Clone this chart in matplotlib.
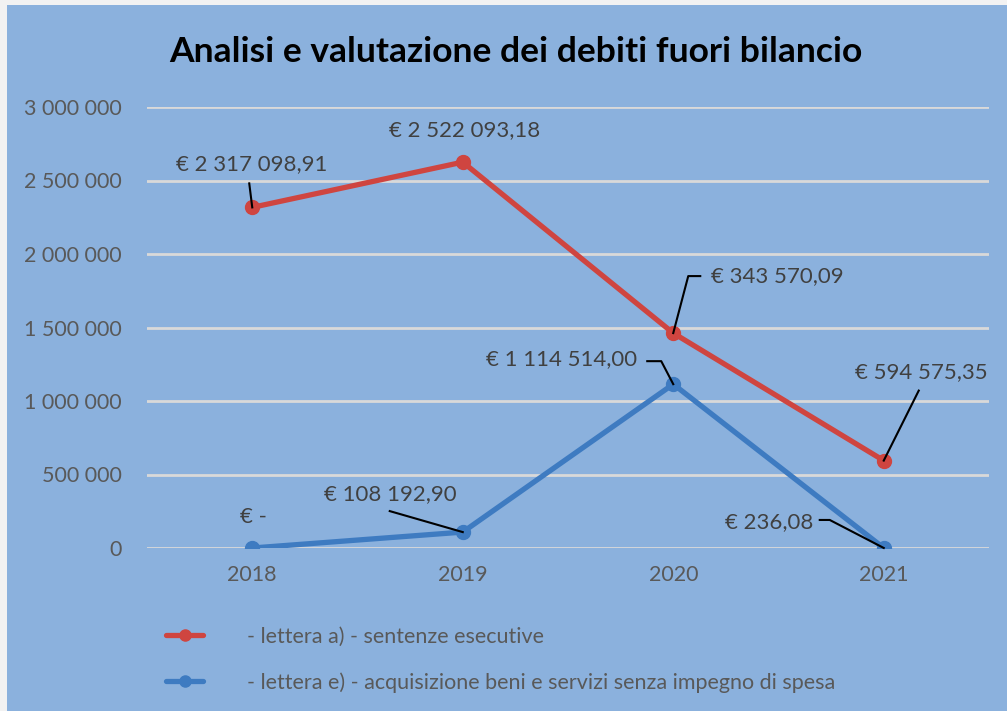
import matplotlib
matplotlib.use("Agg")
import matplotlib.pyplot as plt
from matplotlib.lines import Line2D
from matplotlib.patches import Rectangle
from matplotlib.ticker import FuncFormatter

plt.rcParams['font.family'] = ['Lato', 'DejaVu Sans']

# data
years = ["2018", "2019", "2020", "2021"]
sentenze = [2317098.91, 2625000, 1462000, 594575.35]
acquisizione = [0, 108192.90, 1114514.00, 236.08]
sentenze_labels = ["€ 2 317 098,91", "€ 2 522 093,18", "€ 343 570,09", "€ 594 575,35"]
acquisizione_labels = ["€ -", "€ 108 192,90", "€ 1 114 514,00", "€ 236,08"]

red = "#CF4540"
blue = "#3E7BC1"
bg = "#8BB1DD"

fig = plt.figure(figsize=(10.07, 7.11), dpi=100)
fig.patch.set_facecolor("#F2F2F2")
fig.add_artist(Rectangle((7 / 1007, 0), 1, 1 - 5 / 711, transform=fig.transFigure,
                         facecolor=bg, edgecolor="none", zorder=-10))

ax = fig.add_axes([147 / 1007, 163 / 711, 842 / 1007, 441 / 711])
ax.set_facecolor("none")

x = list(range(len(years)))
ax.plot(x, sentenze, color=red, lw=3.8, marker="o", ms=10, solid_capstyle="round",
        label="- lettera a) - sentenze esecutive", zorder=3)
ax.plot(x, acquisizione, color=blue, lw=3.8, marker="o", ms=10, solid_capstyle="round",
        label="- lettera e) - acquisizione beni e servizi senza impegno di spesa", zorder=3)

ax.set_xlim(-0.5, 3.5)
ax.set_ylim(0, 3000000)
ax.set_xticks(x)
ax.set_xticklabels(years)
ax.set_yticks(range(0, 3000001, 500000))
ax.yaxis.set_major_formatter(FuncFormatter(lambda v, p: f"{int(v):,}".replace(",", " ")))
ax.grid(axis="y", color="#D9D9D9", lw=2)
ax.set_axisbelow(True)
for s in ax.spines.values():
    s.set_visible(False)
ax.tick_params(length=0, labelsize=15.5, labelcolor="#595959")
ax.tick_params(axis="y", pad=18)
ax.tick_params(axis="x", pad=12)

fig.text(0.512, 1 - 52 / 711, "Analisi e valutazione dei debiti fuori bilancio",
         ha="center", va="center", fontsize=25.5, fontweight="bold", color="black")

# label offsets (pixels) and leader paths (pixels, relative to point)
red_off = [(-1, 43), (2, 32), (104, 57), (38, 89)]
red_lead = [[(-3, 24), (0, 0)], None, [(27, 57), (15, 57), (0, 0)], [(35, 70), (0, 0)]]
blue_off = [(1, 31), (-72, 38), (-112, 25), (-115, 26)]
blue_lead = [None, [(-73, 21), (0, 0)], [(-26, 23), (-12, 23), (0, 0)], [(-64, 28), (-54, 28), (0, 0)]]

fig.canvas.draw()
inv = fig.transFigure.inverted()
for vals, labels, offs, leads in [(sentenze, sentenze_labels, red_off, red_lead),
                                  (acquisizione, acquisizione_labels, blue_off, blue_lead)]:
    for i, (v, lab) in enumerate(zip(vals, labels)):
        ax.annotate(lab, (i, v), xytext=offs[i], textcoords="offset pixels",
                    ha="center", va="center", fontsize=16, color="#404040")
        if leads[i]:
            px, py = ax.transData.transform((i, v))
            pts = [inv.transform((px + dx, py + dy)) for dx, dy in leads[i]]
            fig.add_artist(Line2D([p[0] for p in pts], [p[1] for p in pts],
                                  transform=fig.transFigure, color="black", lw=1.5, zorder=4))

fig.legend(loc="upper left", bbox_to_anchor=(147 / 1007, 1 - 607 / 711), frameon=False,
           fontsize=15.5, labelcolor="#595959", handlelength=1.7, handletextpad=2.05,
           labelspacing=1.2, markerscale=0.8)

fig.savefig("out.png", dpi=100, facecolor=fig.get_facecolor())
